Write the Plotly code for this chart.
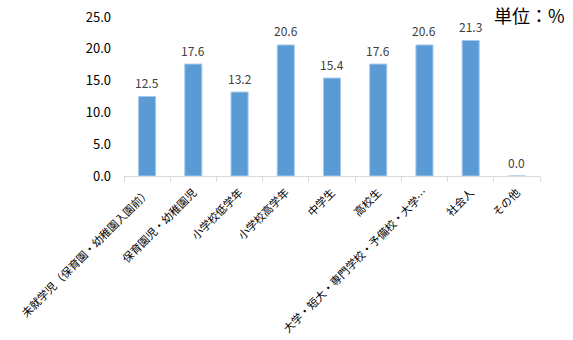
import plotly.graph_objects as go

categories = ["未就学児（保育園・幼稚園入園前）", "保育園児・幼稚園児", "小学校低学年", "小学校高学年",
              "中学生", "高校生", "大学・短大・専門学校・予備校・大学…", "社会人", "その他"]
values = [12.5, 17.6, 13.2, 20.6, 15.4, 17.6, 20.6, 21.3, 0.0]
value_labels = [f"{v:.1f}" for v in values]
y_ticks = [0, 5, 10, 15, 20, 25]
y_tick_labels = [f"{v:.1f}" for v in y_ticks]

FONT = "Noto Sans CJK JP"

fig = go.Figure(go.Bar(
    x=categories, y=values,
    marker=dict(color="#5B9BD5", line=dict(color="#a9c9ea", width=1)),
))

for c, v, t in zip(categories, values, value_labels):
    fig.add_annotation(
        x=c, y=v, text=t, showarrow=False, xref="x", yref="y",
        yanchor="middle", yshift=14,
        font=dict(family=FONT, size=12, color="#404040"),
    )

fig.update_layout(
    width=573, height=340,
    margin=dict(l=124, r=33, t=17, b=164, autoexpand=False),
    paper_bgcolor="white", plot_bgcolor="white",
    bargap=0.63,
    showlegend=False,
    font=dict(family=FONT, color="#000000"),
)
fig.update_xaxes(
    type="category", tickangle=-45, tickson="boundaries",
    ticks="outside", ticklen=5, tickcolor="#d9d9d9",
    showline=True, linecolor="#d9d9d9", linewidth=1,
    tickfont=dict(family=FONT, size=11, color="#000000"),
    showgrid=False, automargin=False, ticklabelstandoff=5,
)
fig.update_yaxes(
    range=[0, 25], tickvals=y_ticks, ticktext=y_tick_labels,
    showgrid=False, zeroline=False, showline=False,
    tickfont=dict(family=FONT, size=13, color="#000000"),
    ticks="", ticklabelstandoff=12, automargin=False,
)
fig.add_annotation(
    text="単位：%", xref="paper", yref="paper", x=1.065, y=1.015,
    xanchor="right", yanchor="middle", showarrow=False,
    font=dict(family=FONT, size=18, color="#000000"),
)
fig.write_html("out.html")
